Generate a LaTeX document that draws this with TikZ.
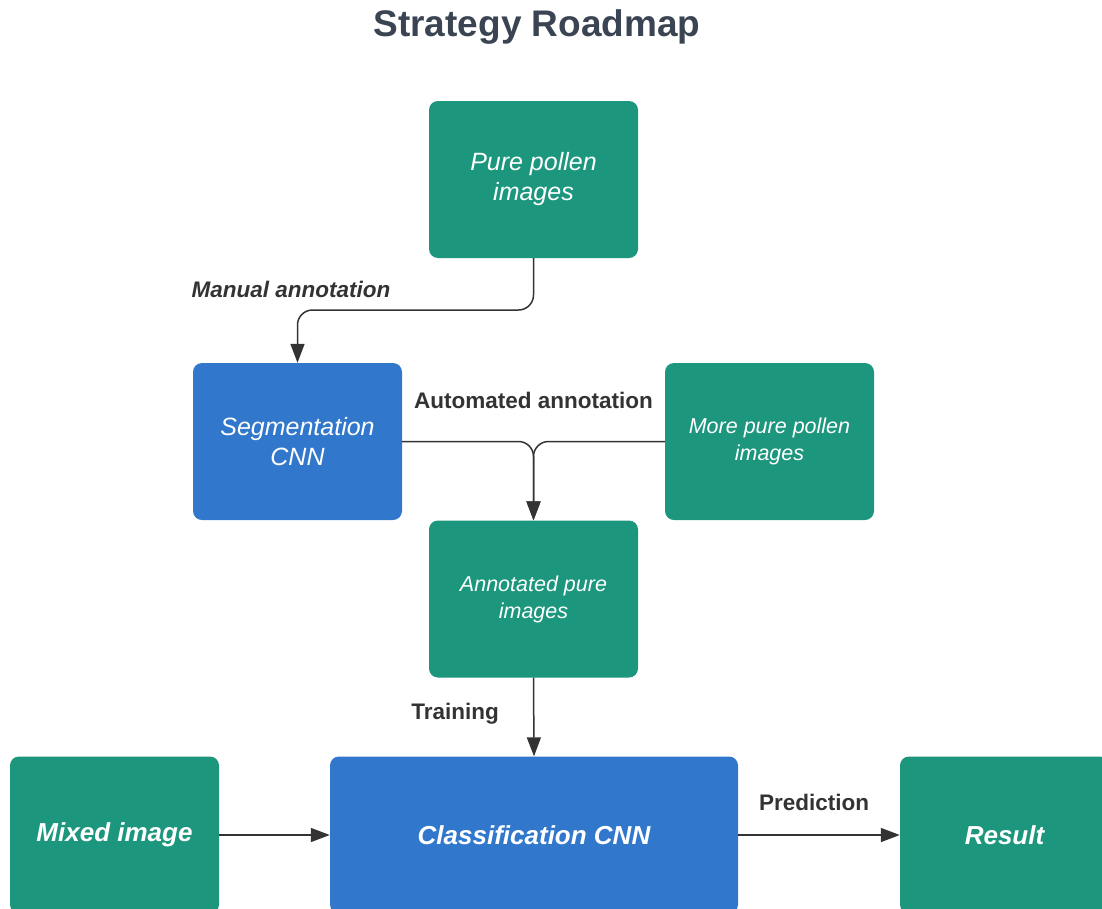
\documentclass[tikz,border=0pt]{standalone}
\usepackage{fontspec}
\setmainfont{Liberation Sans}
\usetikzlibrary{arrows.meta}
\definecolor{boxgreen}{HTML}{1C977D}
\definecolor{boxblue}{HTML}{3178CC}
\definecolor{linegray}{HTML}{333333}
\definecolor{titlegray}{HTML}{3A4452}
\tikzset{
  box/.style={rectangle, rounded corners=9pt, minimum width=209pt, minimum height=157pt, inner sep=0pt, text=white, align=center},
  greenbox/.style={box, fill=boxgreen},
  bluebox/.style={box, fill=boxblue},
  bigtxt/.style={font=\fontsize{25}{30}\selectfont\itshape},
  midtxt/.style={font=\fontsize{21.5}{27}\selectfont\itshape},
  boldtxt/.style={font=\fontsize{26}{30}\selectfont\bfseries\itshape},
  lbl/.style={text=linegray, font=\fontsize{22.5}{26}\selectfont\bfseries},
  conn/.style={draw=linegray, line width=1.5pt, rounded corners=15pt},
  arr/.style={conn, -{Triangle[length=19pt,width=14pt]}},
}
\begin{document}
\begin{tikzpicture}[x=1pt, y=-1pt]
\useasboundingbox (0,0) rectangle (1102,908);
\clip (0,0) rectangle (1102,908);
\fill[white] (0,0) rectangle (1102,908);
\node[text=titlegray, font=\fontsize{37}{40}\selectfont\bfseries] (title) at (537,27) {Strategy Roadmap};
\node[greenbox, bigtxt] (pure) at (533.5,179.5) {Pure pollen\\images};
\node[bluebox, bigtxt] (seg) at (297.5,441.5) {Segmentation\\CNN};
\node[greenbox, midtxt] (more) at (769.5,441.5) {More pure pollen\\images};
\node[greenbox, midtxt] (ann) at (533.5,599) {Annotated pure\\images};
\node[greenbox, boldtxt] (mixed) at (114.5,835) {Mixed image};
\node[bluebox, boldtxt, minimum width=408pt] (cls) at (534,835) {Classification CNN};
\node[greenbox, boldtxt] (res) at (1004.5,835) {Result};
\coordinate (bend) at (533.5,310);
\draw[arr] (pure.south) -- (bend) -| (seg.north);
\draw[arr] (seg.east) -| (ann.north);
\draw[arr] (more.west) -| (ann.north);
\draw[arr] (ann.south) -- (cls.north);
\draw[arr] (mixed.east) -- (cls.west);
\draw[arr] (cls.east) -- (res.west);
\node[lbl, font=\fontsize{22.5}{26}\selectfont\bfseries\itshape] (lman) at (291,289) {Manual annotation};
\node[lbl] (lauto) at (533.5,400) {Automated annotation};
\node[lbl] (ltrain) at (455,714) {Training};
\node[lbl] (lpred) at (814,802) {Prediction};
\end{tikzpicture}
\end{document}
